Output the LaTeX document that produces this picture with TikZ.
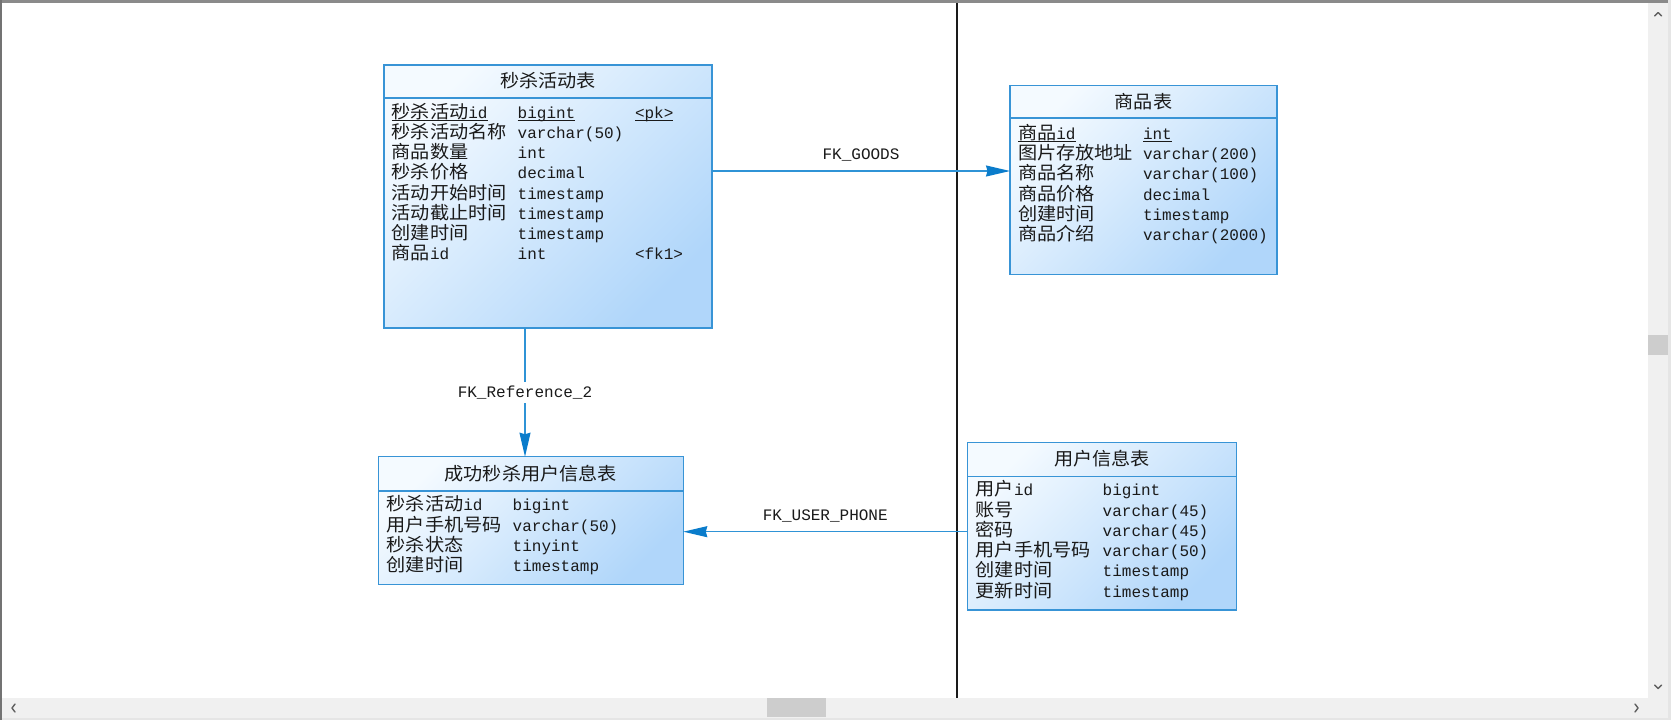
\documentclass[tikz,border=0pt]{standalone}
\usepackage{fontspec}
\usetikzlibrary{arrows.meta}
\newfontfamily\monofam{Liberation Mono}
\newfontfamily\cjkfam{Noto Sans CJK SC}[FakeStretch=1.065]
\newcommand\zh[1]{{\cjkfam\fontsize{18}{18}\selectfont #1}}
\newcommand\mf{\monofam\fontsize{16}{16}\selectfont}

\definecolor{tblLine}{HTML}{3894D6}
\definecolor{tblLight}{HTML}{F4FAFF}
\definecolor{tblDark}{HTML}{B0D6FA}
\definecolor{fkLine}{HTML}{2F93D6}
\definecolor{fkTip}{HTML}{0A7CCB}
\definecolor{barBg}{HTML}{F0F0F0}
\definecolor{barThumb}{HTML}{CDCDCD}
\definecolor{barGlyph}{HTML}{606060}
\definecolor{frameGray}{HTML}{8A8A8A}
\definecolor{ink}{HTML}{1A1A1A}

\tikzset{
  tbl/.style={draw=tblLine, line width=1.2pt, shading=axis,
    top color=tblLight, bottom color=tblDark, shading angle=45,
    anchor=north west, inner sep=0pt, outer sep=0pt},
  sep/.style={draw=tblLine, line width=1.2pt},
  title/.style={inner sep=0pt, outer sep=0pt, font=\mf, text=ink},
  cell/.style={anchor=base west, inner sep=0pt, outer sep=0pt, font=\mf, text=ink},
  uline/.style={draw=ink, line width=0.9pt},
  fk/.style={draw=fkLine, line width=1.2pt,
    -{Stealth[length=24pt, width=11pt, inset=1.5pt, color=fkTip]}},
  fklabel/.style={font=\mf, text=ink, inner sep=1pt},
  glyph/.style={draw=barGlyph, line width=1.4pt, line cap=round, line join=round},
}

\begin{document}
\begin{tikzpicture}[x=1pt, y=-1pt]
\useasboundingbox (0,0) rectangle (1671,720);
\fill[white] (0,0) rectangle (1671,720);

% page divider
\draw[ink, line width=1.3pt] (957,3) -- (957,699);

% ---------- 秒杀活动表 ----------
\node[tbl, minimum width=328pt, minimum height=263pt] (act) at (384,65) {};
\draw[sep] ([yshift=-33pt]act.north west) -- ([yshift=-33pt]act.north east);
\node[title] (actT) at ([yshift=-16pt]act.north) {\zh{秒杀活动表}};
\node[cell] (a0n) at (391.7,118.3) {\zh{秒杀活动}id};
\node[cell] (a0t) at (517.7,118.3) {bigint};
\node[cell] (a0k) at (635,118.3) {<pk>};
\node[cell] (a1n) at (391.7,138.5) {\zh{秒杀活动名称}};
\node[cell] (a1t) at (517.7,138.5) {varchar(50)};
\node[cell] (a2n) at (391.7,158.7) {\zh{商品数量}};
\node[cell] (a2t) at (517.7,158.7) {int};
\node[cell] (a3n) at (391.7,178.9) {\zh{秒杀价格}};
\node[cell] (a3t) at (517.7,178.9) {decimal};
\node[cell] (a4n) at (391.7,199.1) {\zh{活动开始时间}};
\node[cell] (a4t) at (517.7,199.1) {timestamp};
\node[cell] (a5n) at (391.7,219.3) {\zh{活动截止时间}};
\node[cell] (a5t) at (517.7,219.3) {timestamp};
\node[cell] (a6n) at (391.7,239.5) {\zh{创建时间}};
\node[cell] (a6t) at (517.7,239.5) {timestamp};
\node[cell] (a7n) at (391.7,259.7) {\zh{商品}id};
\node[cell] (a7t) at (517.7,259.7) {int};
\node[cell] (a7k) at (635,259.7) {<fk1>};
\foreach \n in {a0n,a0t,a0k}
  \draw[uline] ([yshift=-2.2pt]\n.base west) -- ([yshift=-2.2pt]\n.base east);

% ---------- 商品表 ----------
\node[tbl, minimum width=267pt, minimum height=188.6pt] (goods) at (1010,85.7) {};
\draw[sep] ([yshift=-32.3pt]goods.north west) -- ([yshift=-32.3pt]goods.north east);
\node[title] (goodsT) at ([yshift=-16pt]goods.north) {\zh{商品表}};
\node[cell] (g0n) at (1018,139.3) {\zh{商品}id};
\node[cell] (g0t) at (1143,139.3) {int};
\node[cell] (g1n) at (1018,159.6) {\zh{图片存放地址}};
\node[cell] (g1t) at (1143,159.6) {varchar(200)};
\node[cell] (g2n) at (1018,179.9) {\zh{商品名称}};
\node[cell] (g2t) at (1143,179.9) {varchar(100)};
\node[cell] (g3n) at (1018,200.2) {\zh{商品价格}};
\node[cell] (g3t) at (1143,200.2) {decimal};
\node[cell] (g4n) at (1018,220.5) {\zh{创建时间}};
\node[cell] (g4t) at (1143,220.5) {timestamp};
\node[cell] (g5n) at (1018,240.8) {\zh{商品介绍}};
\node[cell] (g5t) at (1143,240.8) {varchar(2000)};
\foreach \n in {g0n,g0t}
  \draw[uline] ([yshift=-2.2pt]\n.base west) -- ([yshift=-2.2pt]\n.base east);

% ---------- 成功秒杀用户信息表 ----------
\node[tbl, minimum width=305pt, minimum height=127.6pt] (succ) at (378.3,456.7) {};
\draw[sep] ([yshift=-34.3pt]succ.north west) -- ([yshift=-34.3pt]succ.north east);
\node[title] (succT) at ([yshift=-17pt]succ.north) {\zh{成功秒杀用户信息表}};
\node[cell] (s0n) at (386.7,510.7) {\zh{秒杀活动}id};
\node[cell] (s0t) at (512.7,510.7) {bigint};
\node[cell] (s1n) at (386.7,531.0) {\zh{用户手机号码}};
\node[cell] (s1t) at (512.7,531.0) {varchar(50)};
\node[cell] (s2n) at (386.7,551.3) {\zh{秒杀状态}};
\node[cell] (s2t) at (512.7,551.3) {tinyint};
\node[cell] (s3n) at (386.7,571.6) {\zh{创建时间}};
\node[cell] (s3t) at (512.7,571.6) {timestamp};

% ---------- 用户信息表 ----------
\node[tbl, minimum width=269.4pt, minimum height=167.7pt] (user) at (967.3,442.3) {};
\draw[sep] ([yshift=-34pt]user.north west) -- ([yshift=-34pt]user.north east);
\node[title] (userT) at ([yshift=-16.5pt]user.north) {\zh{用户信息表}};
\node[cell] (u0n) at (975.7,495.7) {\zh{用户}id};
\node[cell] (u0t) at (1102.7,495.7) {bigint};
\node[cell] (u1n) at (975.7,516.0) {\zh{账号}};
\node[cell] (u1t) at (1102.7,516.0) {varchar(45)};
\node[cell] (u2n) at (975.7,536.3) {\zh{密码}};
\node[cell] (u2t) at (1102.7,536.3) {varchar(45)};
\node[cell] (u3n) at (975.7,556.6) {\zh{用户手机号码}};
\node[cell] (u3t) at (1102.7,556.6) {varchar(50)};
\node[cell] (u4n) at (975.7,576.9) {\zh{创建时间}};
\node[cell] (u4t) at (1102.7,576.9) {timestamp};
\node[cell] (u5n) at (975.7,597.2) {\zh{更新时间}};
\node[cell] (u5t) at (1102.7,597.2) {timestamp};

% ---------- references ----------
\coordinate (gA) at ([yshift=-106pt]act.north east);
\draw[fk] (gA) -- (gA -| goods.west)
  node[fklabel, midway, yshift=15.5pt] (gL) {FK\_GOODS};

\coordinate (rA) at ([xshift=141pt]act.south west);
\draw[fk] (rA) -- (rA |- succ.north)
  node[fklabel, midway, fill=white, inner xsep=1pt, inner ysep=4pt] (rL) {FK\_Reference\_2};

\coordinate (uA) at ([yshift=-89.4pt]user.north west);
\draw[fk] (uA) -- (uA -| succ.east)
  node[fklabel, midway, yshift=16pt] (uL) {FK\_USER\_PHONE};

% ---------- window frame and scroll bars ----------
\fill[frameGray] (0,0) rectangle (1671,2.5);
\fill[black!55] (0,0) rectangle (1.5,720);
\fill[barBg] (1648,2.5) rectangle (1668,718);
\fill[barBg] (1.5,698) rectangle (1668,718);
\fill[barThumb] (1648,335) rectangle (1668,355);
\fill[barThumb] (767,698) rectangle (826,717);
\fill[black!10] (1668,0) rectangle (1671,720);
\fill[black!10] (1.5,718) rectangle (1671,720);
\draw[glyph] (1654.5,16) -- (1658,12.5) -- (1661.5,16);
\draw[glyph] (1654.5,685) -- (1658,688.5) -- (1661.5,685);
\draw[glyph] (15,704) -- (12,708) -- (15,712);
\draw[glyph] (1635,704) -- (1638,708) -- (1635,712);
\end{tikzpicture}
\end{document}
